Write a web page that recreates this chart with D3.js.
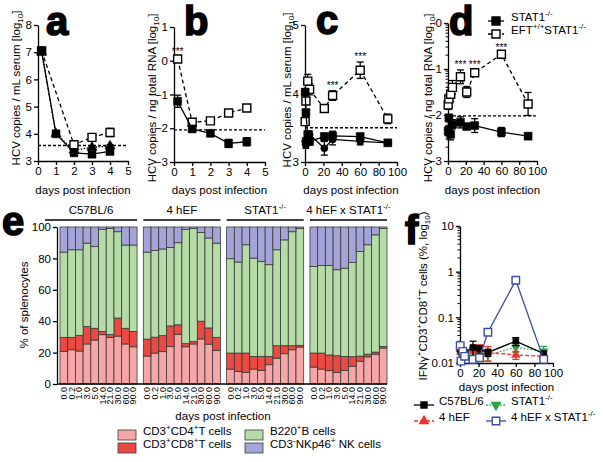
<!DOCTYPE html>
<html>
<head>
<meta charset="utf-8">
<script src="https://d3js.org/d3.v7.min.js"></script>
<style>
  body { margin: 0; background: #fff; }
</style>
</head>
<body>
<div id="chart"></div>
<script>
// ---------- data: panels a-d (log10 HCV) ----------
const daysAB = [0.2, 1, 2, 3, 4];
const aStat = [7.05, 4.0, 3.3, 3.25, 3.35];
const aStatErr = [0.05, 0.05, 0.05, 0.06, 0.07];
const aEft = [7.05, null, 3.6, 3.87, 4.05];
const aEftErr = [0.05, 0, 0.05, 0.08, 0.15];
const aTri = [7.0, 4.0, 3.4, 3.5, 3.55];
const aTriErr = [0.05, 0.05, 0.05, 0.05, 0.05];
const aLimit = 3.57;

const bStat = [-1.2, -2.02, -2.15, -2.45, -2.4];
const bStatErr = [0.18, 0.05, 0.05, 0.12, 0.12];
const bEft = [0.05, -1.82, -1.78, -1.55, -1.4];
const bEftErr = [0.05, 0.05, 0.08, 0.05, 0.05];
const bLimit = -2.05;

const daysC = [0.2, 1, 3, 5, 21, 30, 60, 90];
const cEft = [3.59, 3.89, 4.18, 4.06, 3.78, 3.97, 4.34, 3.63];
const cEftErr = [0.05, 0.05, 0.1, 0.08, 0.05, 0.07, 0.12, 0.07];
const cStat = [4.02, 3.72, 3.4, 3.3, 3.37, 3.38, 3.37, 3.28];
const cStatErr = [0.05, 0.05, 0.05, 0.05, 0.05, 0.07, 0.05, 0.03];
const cCirc = [3.3, 3.25, 3.3, 3.4, 3.2, 3.33, 3.3, 3.28];
const cCircErr = [0.05, 0.05, 0.05, 0.05, 0.1, 0.08, 0.05, 0.03];
const cLimit = 3.5;

const daysD = [0.2, 1, 3, 5, 14, 21, 30, 60, 90];
const dStat = [-2.35, -2.06, -2.42, -2.2, -2.16, -2.25, -2.23, -2.37, -2.46];
const dStatErr = [0.1, 0.05, 0.12, 0.1, 0.12, 0.03, 0.15, 0.1, 0.02];
const dEft = [-1.78, -1.65, -1.55, -1.4, -1.17, -1.5, -1.08, -0.68, -1.76];
const dEftErr = [0.1, 0.05, 0.15, 0.15, 0.15, 0.12, 0.05, 0.03, 0.25];
const dLimit = -2.02;

// ---------- data: panel e (% of splenocytes) ----------
const eGroups = ['C57BL/6', '4 hEF', 'STAT1', '4 hEF x STAT1'];
const eDays = ['0.0', '0.2', '1.0', '3.0', '5.0', '14.0', '21.0', '30.0', '60.0', '90.0'];
const cd4 = [
  [20.8, 21.8, 21, 25.5, 28, 31.4, 29.7, 30.5, 25.5, 23.7],
  [17.8, 19.7, 20.6, 23.8, 31.7, 23.7, 25.5, 28.7, 25.4, 21.5],
  [9.5, 8, 7.4, 9.5, 8.6, 12.3, 16.5, 19.3, 21.8, 23.5],
  [10.8, 9.5, 8.5, 7.4, 8.6, 11.3, 14.5, 17.3, 19, 22.9]
];
const cd8 = [
  [8.9, 7.9, 10, 11.2, 7.5, 2.1, 1.8, 11.5, 10, 9.8],
  [10.8, 10.1, 10.2, 13.2, 6, 2, 1.5, 11.3, 10.3, 8.2],
  [10.2, 11.7, 12.3, 8.1, 9, 5.3, 7.9, 5.1, 2.6, 1.1],
  [8.9, 10.2, 10, 10.6, 9, 6.1, 3.3, 1.7, 1.3, 0.9]
];
const b220 = [
  [54.3, 55.8, 54.5, 53, 52, 65, 67.5, 55, 53, 55],
  [55.4, 55.2, 55.2, 50, 52.3, 72.8, 72, 56.5, 57.3, 60],
  [60.1, 58, 69, 62.6, 60.4, 58.4, 61.1, 67.4, 72.6, 74.4],
  [55.2, 55.8, 57, 54.8, 56.2, 60.1, 66.6, 69.7, 74.7, 75.2]
];
const nk = [
  [16, 14.5, 14.5, 10.3, 12.5, 1.5, 1, 3, 11.5, 11.5],
  [16, 15, 14, 13, 10, 1.5, 1, 3.5, 7, 10.3],
  [20.2, 22.3, 11.3, 19.8, 22, 24, 14.5, 8.2, 3, 1],
  [25.1, 24.5, 24.5, 27.2, 26.2, 22.5, 15.6, 11.3, 5, 1]
];
const cellKeys = ['cd4', 'cd8', 'b220', 'nk'];
const cellColors = ['#f6a6a6', '#eb4a42', '#b5dba7', '#a4a4d8'];

// ---------- data: panel f (IFNg+ CD8 T cells, %) ----------
const daysF = [0.2, 1, 3, 5, 14, 21, 30, 60, 90];
const fC57 = [0.02, 0.018, 0.016, 0.017, 0.022, 0.02, 0.017, 0.03, 0.016];
const fC57Err = [0, 0, 0, 0, 0.008, 0.004, 0.003, 0.006, 0.002];
const fHef = [0.02, 0.017, 0.015, 0.018, 0.018, 0.02, 0.017, 0.015, 0.014];
const fHefErr = [0, 0, 0, 0, 0.004, 0.005, 0.006, 0.003, 0.002];
const fStat = [0.018, 0.016, 0.017, 0.015, 0.019, 0.018, 0.015, 0.022, 0.018];
const fStatErr = [0, 0, 0, 0, 0.004, 0.004, 0.004, 0.005, 0.005];
const fCross = [0.024, 0.011, 0.018, 0.014, 0.012, 0.013, 0.047, 0.65, 0.012];

const FONT = '"Liberation Sans", Arial, Helvetica, sans-serif';
const FS = 11.5;
const intFmt = d3.format('d');

const svg = d3.select('#chart').append('svg')
    .attr('width', 603).attr('height', 462)
    .attr('font-family', FONT);

function drawAxes(x, y, xTicks, yTicks, fmt) {
  const g = svg.append('g');
  const xa = d3.axisBottom(x).tickValues(xTicks).tickFormat(intFmt)
      .tickSize(4).tickSizeOuter(0).tickPadding(2);
  const ya = d3.axisLeft(y).tickValues(yTicks).tickFormat(fmt || intFmt)
      .tickSize(4).tickSizeOuter(0).tickPadding(2);
  g.append('g').attr('transform', `translate(0,${y.range()[0]})`).call(xa);
  g.append('g').attr('transform', `translate(${x.range()[0]},0)`).call(ya);
  g.selectAll('g').attr('font-family', FONT).attr('font-size', FS);
  g.selectAll('.domain, .tick line').attr('stroke', '#000').attr('stroke-width', 1.3);
  g.selectAll('.tick text').attr('fill', '#000');
  return g;
}

function minorLogTicks(x, y, lo, hi, logValues) {
  const vals = [];
  for (let k = lo; k < hi; k++) {
    for (let m = 2; m <= 9; m++) vals.push(logValues ? Math.pow(10, k) * m : k + Math.log10(m));
  }
  svg.append('g').selectAll('line').data(vals).join('line')
      .attr('x1', x.range()[0] - 2.5).attr('x2', x.range()[0])
      .attr('y1', d => y(d)).attr('y2', d => y(d))
      .attr('stroke', '#000').attr('stroke-width', 1);
}

function drawSeries(x, y, days, vals, errs, st) {
  const pts = days.map((d, i) => ({ d, v: vals[i], e: errs ? errs[i] : 0 }))
      .filter(p => p.v != null);
  const g = svg.append('g');
  g.append('path').datum(pts)
      .attr('d', d3.line().x(p => x(p.d)).y(p => y(p.v)))
      .attr('fill', 'none').attr('stroke', st.color).attr('stroke-width', st.lw || 1.3)
      .attr('stroke-dasharray', st.dash || null);
  const lowest = d3.min(y.domain());
  pts.filter(p => p.e > 0).forEach(p => {
    const lo = Math.max(p.v - p.e, lowest), hi = p.v + p.e;
    const cx = x(p.d);
    g.append('line').attr('x1', cx).attr('x2', cx).attr('y1', y(lo)).attr('y2', y(hi))
        .attr('stroke', st.color).attr('stroke-width', 1.3);
    [lo, hi].forEach(v => {
      g.append('line').attr('x1', cx - 3.5).attr('x2', cx + 3.5).attr('y1', y(v)).attr('y2', y(v))
          .attr('stroke', st.color).attr('stroke-width', 1.3);
    });
  });
  g.selectAll('path.m').data(pts).join('path')
      .attr('class', 'm')
      .attr('d', d3.symbol(st.shape, st.size))
      .attr('transform', p => `translate(${x(p.d)},${y(p.v)})` + (st.flip ? ' rotate(180)' : ''))
      .attr('fill', st.open ? '#fff' : st.color)
      .attr('stroke', st.color).attr('stroke-width', st.open ? 1.4 : 0.5);
}

function limitLine(x, y, v) {
  svg.append('line')
      .attr('x1', x.range()[0]).attr('x2', x.range()[1])
      .attr('y1', y(v)).attr('y2', y(v))
      .attr('stroke', '#000').attr('stroke-width', 1.3).attr('stroke-dasharray', '3,2');
}

function stars(x, y, day, top) {
  svg.append('text').attr('x', x(day)).attr('y', y(top) - 2)
      .attr('text-anchor', 'middle').attr('font-size', 10).text('***');
}

function panelLetter(txt, px, py) {
  svg.append('text').attr('x', px).attr('y', py)
      .attr('font-size', 40).attr('font-weight', 'bold')
      .attr('stroke', '#000').attr('stroke-width', 1.6).text(txt);
}

function yTitle(cx, cy, main, sub, tail) {
  const t = svg.append('text').attr('transform', `translate(${cx},${cy}) rotate(-90)`)
      .attr('text-anchor', 'middle').attr('font-size', FS).attr('dy', '0.35em');
  t.append('tspan').text(main);
  if (sub) t.append('tspan').attr('dy', 3).attr('font-size', 8).text(sub);
  if (tail) t.append('tspan').attr('dy', -3).text(tail);
  return t;
}

function xTitle(x, py) {
  svg.append('text').attr('x', (x.range()[0] + x.range()[1]) / 2).attr('y', py)
      .attr('text-anchor', 'middle').attr('font-size', FS).text('days post infection');
}

function supText(t, parts) {
  parts.forEach(([s, sup], i) => {
    const prev = i > 0 ? parts[i - 1][1] : 0;
    t.append('tspan').attr('dy', sup && !prev ? -5 : (!sup && prev ? 5 : 0))
        .attr('font-size', sup ? 8 : FS).text(s);
  });
}

const squareF = { shape: d3.symbolSquare, size: 64, color: '#000' };
const squareO = { shape: d3.symbolSquare, size: 64, color: '#000', open: true, dash: '4,3' };

// ---------- panel a ----------
const xa = d3.scaleLinear().domain([0, 5]).range([38, 128]);
const ya = d3.scaleLinear().domain([3, 8]).range([161, 25]);
drawAxes(xa, ya, d3.range(0, 6), d3.range(3, 9));
limitLine(xa, ya, aLimit);
drawSeries(xa, ya, daysAB, aTri, aTriErr, { shape: d3.symbolTriangle, size: 45, color: '#000', dash: '1.5,1.5' });
drawSeries(xa, ya, daysAB, aEft, aEftErr, squareO);
drawSeries(xa, ya, daysAB, aStat, aStatErr, squareF);
yTitle(16, 88, 'HCV copies / mL serum [log', '10', ']');
xTitle(xa, 194);
panelLetter('a', 46, 35);

// ---------- panel b ----------
const xb = d3.scaleLinear().domain([0, 5]).range([174, 265]);
const yb = d3.scaleLinear().domain([-3, 1]).range([162, 27]);
drawAxes(xb, yb, d3.range(0, 6), d3.range(-3, 2));
limitLine(xb, yb, bLimit);
drawSeries(xb, yb, daysAB, bEft, bEftErr, squareO);
drawSeries(xb, yb, daysAB, bStat, bStatErr, squareF);
stars(xb, yb, 0.2, bEft[0] + bEftErr[0]);
yTitle(152, 98, 'HCV copies / ng total RNA [log', '10', ']');
xTitle(xb, 194);
panelLetter('b', 184, 35);

// ---------- panel c ----------
const xc = d3.scaleLinear().domain([0, 100]).range([305, 397]);
const yc = d3.scaleLinear().domain([3, 5]).range([162, 25]);
drawAxes(xc, yc, d3.range(0, 101, 20), d3.range(3, 6));
limitLine(xc, yc, cLimit);
drawSeries(xc, yc, daysC, cCirc, cCircErr, { shape: d3.symbolCircle, size: 40, color: '#000' });
drawSeries(xc, yc, daysC, cEft, cEftErr, squareO);
drawSeries(xc, yc, daysC, cStat, cStatErr, squareF);
stars(xc, yc, 30, cEft[5] + cEftErr[5]);
stars(xc, yc, 60, cEft[6] + cEftErr[6]);
yTitle(287, 90, 'HCV copies / mL serum [log', '10', ']');
xTitle(xc, 194);
panelLetter('c', 316, 34);

// ---------- panel d ----------
const xd = d3.scaleLinear().domain([0, 100]).range([448, 537]);
const yd = d3.scaleLinear().domain([-3, 0]).range([161, 23]);
drawAxes(xd, yd, d3.range(0, 101, 20), d3.range(-3, 1));
minorLogTicks(xd, yd, -3, 0, false);
limitLine(xd, yd, dLimit);
drawSeries(xd, yd, daysD, dEft, dEftErr, squareO);
drawSeries(xd, yd, daysD, dStat, dStatErr, squareF);
stars(xd, yd, 14, dEft[4] + dEftErr[4]);
stars(xd, yd, 30, dEft[6] + dEftErr[6]);
stars(xd, yd, 60, dEft[7] + dEftErr[7]);
yTitle(428, 98, 'HCV copies / ng total RNA [log', '10', ']');
xTitle(xd, 194);
panelLetter('d', 449, 35);

// legend d
const legD = [
  { st: squareF, y: 21, parts: [['STAT1', 0], ['-/-', 1]] },
  { st: squareO, y: 34, parts: [['EFT', 0], ['+/+', 1], ['STAT1', 0], ['-/-', 1]] }
];
legD.forEach(l => {
  svg.append('line').attr('x1', 488).attr('x2', 504).attr('y1', l.y).attr('y2', l.y)
      .attr('stroke', '#000').attr('stroke-width', 1.3).attr('stroke-dasharray', l.st.dash || null);
  svg.append('path').attr('d', d3.symbol(l.st.shape, l.st.size)())
      .attr('transform', `translate(496,${l.y})`)
      .attr('fill', l.st.open ? '#fff' : '#000').attr('stroke', '#000').attr('stroke-width', 1.4);
  supText(svg.append('text').attr('x', 511).attr('y', l.y).attr('dy', '0.35em').attr('font-size', FS), l.parts);
});

// ---------- panel e ----------
const eX0 = d3.scaleBand().domain(eGroups).range([60, 387]).paddingInner(0.075);
const eX1 = d3.scaleBand().domain(eDays).range([0, eX0.bandwidth()]);
const eY = d3.scaleLinear().domain([0, 100]).range([384, 227]);

eGroups.forEach((grp, gi) => {
  const rows = eDays.map((d, i) => ({ day: d, cd4: cd4[gi][i], cd8: cd8[gi][i], b220: b220[gi][i], nk: nk[gi][i] }));
  const series = d3.stack().keys(cellKeys)(rows);
  const g = svg.append('g').attr('transform', `translate(${eX0(grp)},0)`);
  series.forEach((s, si) => {
    g.selectAll(null).data(s).join('rect')
        .attr('x', d => eX1(d.data.day)).attr('width', eX1.bandwidth())
        .attr('y', d => eY(Math.min(d[1], 100))).attr('height', d => eY(d[0]) - eY(Math.min(d[1], 100)))
        .attr('fill', cellColors[si]).attr('stroke', '#3a3a3a').attr('stroke-width', 0.8);
  });
  g.selectAll('text.xl').data(eDays).join('text')
      .attr('class', 'xl')
      .attr('transform', d => `translate(${eX1(d) + eX1.bandwidth() / 2},387) rotate(-90)`)
      .attr('text-anchor', 'end').attr('dy', '0.35em').attr('font-size', 9).text(d => d);
  // group header
  const x0 = gi === 0 ? 45 : eX0(grp);
  svg.append('line').attr('x1', x0).attr('x2', eX0(grp) + eX0.bandwidth())
      .attr('y1', 220).attr('y2', 220).attr('stroke', '#000').attr('stroke-width', 1.3);
  const t = svg.append('text').attr('x', (x0 + eX0(grp) + eX0.bandwidth()) / 2).attr('y', 214)
      .attr('text-anchor', 'middle').attr('font-size', FS);
  t.append('tspan').text(grp);
  if (grp.includes('STAT1')) t.append('tspan').attr('dy', -5).attr('font-size', 8).text('-/-');
});

const eAxis = svg.append('g').attr('transform', 'translate(57,0)')
    .call(d3.axisLeft(eY).tickValues(d3.range(0, 101, 20)).tickSize(4).tickSizeOuter(0).tickPadding(2));
eAxis.attr('font-family', FONT).attr('font-size', FS);
eAxis.selectAll('.domain, .tick line').attr('stroke', '#000').attr('stroke-width', 1.3);
eAxis.selectAll('.tick text').attr('fill', '#000');
svg.append('line').attr('x1', 57).attr('x2', 387).attr('y1', 384).attr('y2', 384)
    .attr('stroke', '#000').attr('stroke-width', 1.3);
svg.append('text').attr('transform', 'translate(24,305) rotate(-90)')
    .attr('text-anchor', 'middle').attr('dy', '0.35em').attr('font-size', FS).text('% of splenocytes');
svg.append('text').attr('x', 223).attr('y', 420).attr('text-anchor', 'middle')
    .attr('font-size', FS).text('days post infection');
panelLetter('e', 2, 235);

// legend e
const legE = [
  { c: 0, x: 118, y: 430, parts: [['CD3', 0], ['+', 1], ['CD4', 0], ['+', 1], ['T cells', 0]] },
  { c: 1, x: 118, y: 443, parts: [['CD3', 0], ['+', 1], ['CD8', 0], ['+', 1], ['T cells', 0]] },
  { c: 2, x: 245, y: 430, parts: [['B220', 0], ['+', 1], ['B cells', 0]] },
  { c: 3, x: 245, y: 443, parts: [['CD3', 0], ['-', 1], ['NKp46', 0], ['+', 1], [' NK cells', 0]] }
];
legE.forEach(l => {
  svg.append('rect').attr('x', l.x).attr('y', l.y).attr('width', 18).attr('height', 10)
      .attr('fill', cellColors[l.c]).attr('stroke', '#3a3a3a').attr('stroke-width', 0.8);
  supText(svg.append('text').attr('x', l.x + 25).attr('y', l.y + 5).attr('dy', '0.35em').attr('font-size', FS), l.parts);
});

// ---------- panel f ----------
const xf = d3.scaleLinear().domain([0, 100]).range([460, 553]);
const yf = d3.scaleLog().domain([0.01, 10]).range([363, 226]);
drawAxes(xf, yf, d3.range(0, 101, 20), [0.01, 0.1, 1, 10], d => String(d));
minorLogTicks(xf, yf, -2, 1, true);
const fStyles = {
  c57: { shape: d3.symbolSquare, size: 36, color: '#000' },
  hef: { shape: d3.symbolTriangle, size: 32, color: '#e8342c', dash: '4,2' },
  stat: { shape: d3.symbolTriangle, size: 32, color: '#2ea24a', dash: '1.5,2', flip: true },
  cross: { shape: d3.symbolSquare, size: 56, color: '#3c4ea3', open: true }
};
drawSeries(xf, yf, daysF, fStat, fStatErr, fStyles.stat);
drawSeries(xf, yf, daysF, fHef, fHefErr, fStyles.hef);
drawSeries(xf, yf, daysF, fC57, fC57Err, fStyles.c57);
drawSeries(xf, yf, daysF, fCross, null, fStyles.cross);
xTitle(xf, 391);
{
  const t = svg.append('text').attr('transform', 'translate(427,296) rotate(-90)')
      .attr('text-anchor', 'middle').attr('dy', '0.35em').attr('font-size', FS);
  [['IFN\u03b3', 0], ['+', 1], ['CD3', 0], ['+', 1], ['CD8', 0], ['+', 1], ['T cells (%, log', 0], ['10', 2], [')', 0]]
    .forEach(([s, k], i, arr) => {
      const prev = i > 0 ? arr[i - 1][1] : 0;
      const off = k === 1 ? -5 : (k === 2 ? 3 : 0);
      const poff = prev === 1 ? -5 : (prev === 2 ? 3 : 0);
      t.append('tspan').attr('dy', off - poff).attr('font-size', k ? 8 : FS).text(s);
    });
}
panelLetter('f', 405, 244);

// legend f
const legF = [
  { st: fStyles.c57, x: 414, y: 405, parts: [['C57BL/6', 0]] },
  { st: fStyles.stat, x: 486, y: 405, parts: [['STAT1', 0], ['-/-', 1]] },
  { st: fStyles.hef, x: 414, y: 421, parts: [['4 hEF', 0]] },
  { st: fStyles.cross, x: 486, y: 421, parts: [['4 hEF x STAT1', 0], ['-/-', 1]] }
];
legF.forEach(l => {
  svg.append('line').attr('x1', l.x).attr('x2', l.x + 20).attr('y1', l.y).attr('y2', l.y)
      .attr('stroke', l.st.color).attr('stroke-width', 1.3).attr('stroke-dasharray', l.st.dash || null);
  svg.append('path').attr('d', d3.symbol(l.st.shape, l.st.size)())
      .attr('transform', `translate(${l.x + 10},${l.y})` + (l.st.flip ? ' rotate(180)' : ''))
      .attr('fill', l.st.open ? '#fff' : l.st.color).attr('stroke', l.st.color).attr('stroke-width', 1.4);
  supText(svg.append('text').attr('x', l.x + 25).attr('y', l.y).attr('dy', '0.35em').attr('font-size', FS), l.parts);
});
</script>
</body>
</html>
